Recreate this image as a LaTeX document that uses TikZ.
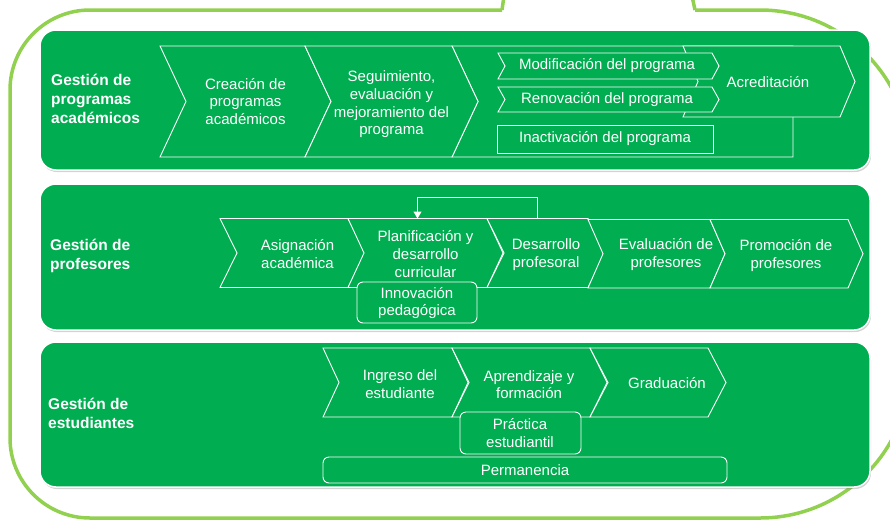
\documentclass[tikz,border=0pt]{standalone}
\usepackage{fontspec}
\setmainfont{Liberation Sans}
\usetikzlibrary{shadows,arrows.meta}

\definecolor{panelgreen}{RGB}{0,173,80}
\definecolor{framegreen}{RGB}{146,208,80}

\tikzset{
  frame/.style={draw=framegreen,line width=3.5pt},
  panel/.style={fill=panelgreen,draw=white,line width=1.5pt,rounded corners=16pt,
    drop shadow={opacity=0.35,shadow xshift=1pt,shadow yshift=-2pt}},
  stage/.style={draw=white,fill=panelgreen,line width=0.9pt,line join=miter},
  subbox/.style={draw=white,fill=panelgreen,line width=0.9pt,rounded corners=6pt},
  txt/.style={text=white,align=center,inner sep=0pt,
    font=\fontsize{15}{17.7}\selectfont},
  head/.style={text=white,align=left,anchor=west,inner sep=0pt,
    font=\fontsize{15.5}{19}\selectfont\bfseries},
  loop/.style={draw=white,line width=1pt,-{Triangle[width=8pt,length=7pt]}}
}

% chevron: name, x left, x right, y top, y bottom, tip depth
\newcommand{\chev}[6]{%
  \draw[stage] (#2,#4) -- (#3,#4) -- ({#3+#6},{(#4+#5)/2}) -- (#3,#5) -- (#2,#5)
    -- ({#2+#6},{(#4+#5)/2}) -- cycle;
  \coordinate (#1-n) at ({(#2+#3)/2},#4);}
\newcommand{\chevtext}[3]{%
  \node[txt] (#1) at (#2) {#3};}

\begin{document}
\begin{tikzpicture}[x=1pt,y=-1pt]
  \useasboundingbox (0,0) rectangle (890,522);

  % outer frame
  \draw[frame,rounded corners=80pt] (502,10) -- (10,10) -- (10,518) -- (500,518);
  \draw[frame,rounded corners=150pt] (500,518) -- (910,518) -- (910,10) -- (695,10);
  \draw[frame] (502,10) -- (504,-4);
  \draw[frame] (695,10) -- (692,-4);

  % panels
  \path[panel] (40,30) rectangle (870,170);
  \path[panel] (40,184) rectangle (870,330);
  \path[panel] (40,342) rectangle (870,487);

  % programas
  \node[head] (hprog) at (51,99) {Gestión de\\programas\\académicos};
  \draw[stage] (452,46) -- (793,46) -- (793,157) -- (452,157) -- (478,101.5) -- cycle;
  \chev{crea}{160}{305}{46}{157}{26}
  \chev{segu}{305}{452}{46}{157}{26}
  \chev{acre}{683}{840}{46}{117}{15}
  \chev{modi}{498}{712}{53}{79}{7}
  \chev{reno}{498}{712}{87}{112}{7}
  \draw[stage] (497,125) rectangle (713,153);
  \chevtext{crea-t}{245.5,101.5}{Creación de\\programas\\académicos}
  \chevtext{segu-t}{391.5,104.5}{Seguimiento,\\evaluación y\\mejoramiento del\\programa}
  \chevtext{acre-t}{768,82}{Acreditación}
  \chevtext{modi-t}{607,66}{Modificación del programa}
  \chevtext{reno-t}{607,100}{Renovación del programa}
  \chevtext{inac-t}{605,139}{Inactivación del programa}

  % profesores
  \node[head] (hprof) at (50,256) {Gestión de\\profesores};
  \chev{asig}{220}{348}{218.5}{287.5}{17}
  \chev{plan}{348}{487}{218.5}{287.5}{16}
  \chev{desa}{487}{588}{218.5}{287.5}{17}
  \chev{eval}{588}{710}{219.5}{288}{15}
  \chev{prom}{710}{848}{219.5}{288}{15}
  \draw[subbox] (357,282) rectangle (477,323);
  \chevtext{asig-t}{297.5,254}{Asignación\\académica}
  \chevtext{plan-t}{425.5,254}{Planificación y\\desarrollo\\curricular}
  \chevtext{desa-t}{546,254.5}{Desarrollo\\profesoral}
  \chevtext{eval-t}{666,254.5}{Evaluación de\\profesores}
  \chevtext{prom-t}{786,255.5}{Promoción de\\profesores}
  \chevtext{inno-t}{417,303}{Innovación\\pedagógica}
  \draw[loop] (desa-n) -- ++(0,-21) -| (plan-n);

  % estudiantes
  \node[head] (hest) at (48,413) {Gestión de\\estudiantes};
  \chev{ingr}{323}{452}{348}{417}{16}
  \chev{apre}{452}{590}{348}{417}{17}
  \chev{grad}{590}{708}{348}{417}{18}
  \draw[subbox] (460,412) rectangle (581,454);
  \draw[subbox] (323,457) rectangle (727,483);
  \chevtext{ingr-t}{400,384}{Ingreso del\\estudiante}
  \chevtext{apre-t}{529,384.5}{Aprendizaje y\\formación}
  \chevtext{grad-t}{667,383.5}{Graduación}
  \chevtext{prac-t}{520,433}{Práctica\\estudiantil}
  \chevtext{perm-t}{525,470}{Permanencia}
\end{tikzpicture}
\end{document}
